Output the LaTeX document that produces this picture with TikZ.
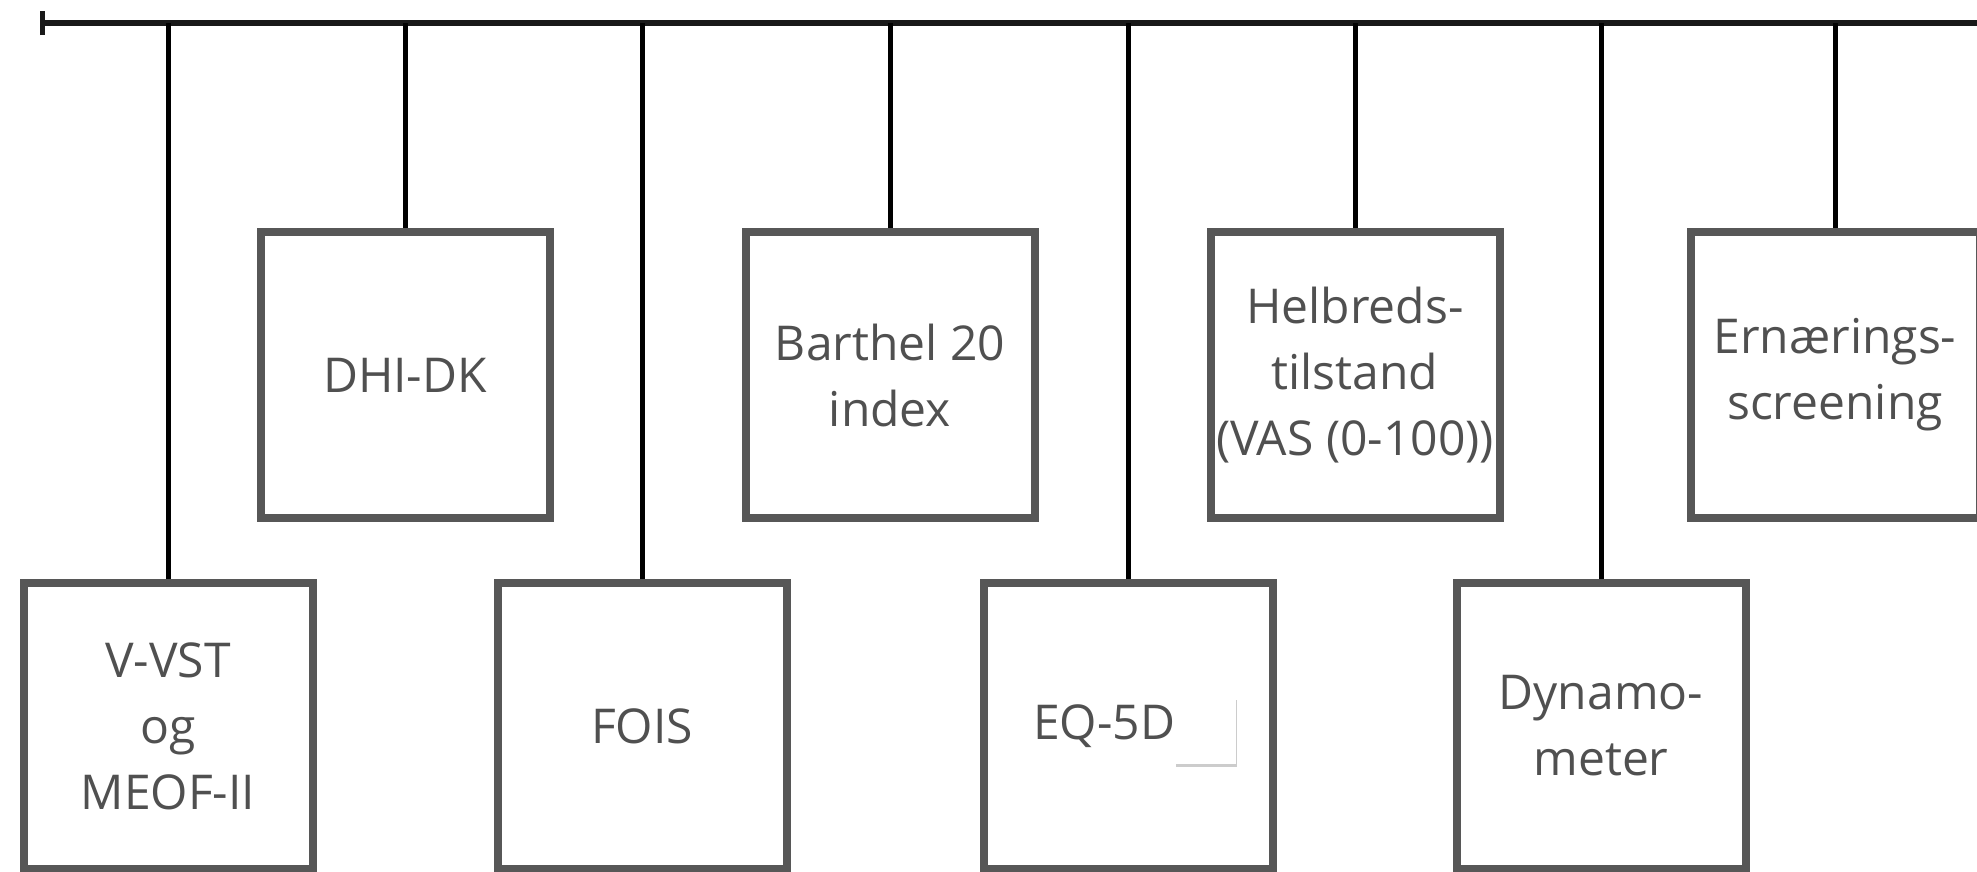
\documentclass[tikz,border=0pt]{standalone}
\usepackage{fontspec}
\setmainfont{Open Sans}
\usetikzlibrary{arrows.meta,shadows}
\definecolor{boxgray}{HTML}{575757}
\definecolor{textgray}{HTML}{505050}

\begin{document}
\begin{tikzpicture}[x=1pt, y=-1pt,
    testbox/.style={draw=boxgray, line width=8pt, rectangle, minimum width=289pt, minimum height=286pt, inner sep=0pt, align=center, font=\fontsize{48}{66}\selectfont, text=textgray},
    link/.style={line width=5pt, black}]
    \useasboundingbox (0,0) rectangle (1977,871);
    \clip (0,0) rectangle (1977,871);

    % Objects
    \node[testbox] (vvst) at (168,726) {V-VST\\og\\MEOF-II};
    \node[testbox] (dhi) at (405,375) {DHI-DK};
    \node[testbox] (fois) at (642,726) {FOIS};
    \node[testbox] (barthel) at (890,375) {Barthel 20\\index};
    \node[testbox] (eq5d) at (1128,726) {EQ-5D\hspace*{48pt}};
    \node[testbox] (helbred) at (1355,375) {Helbreds-\\tilstand\\(VAS (0-100))};
    \node[testbox] (dynamo) at (1601,726) {Dynamo-\\meter};
    \node[testbox] (ernaering) at (1835,375) {Ernærings-\\screening};

    % White patch after EQ-5D
    \node[fill=white, minimum width=61pt, minimum height=67pt, inner sep=0pt, drop shadow={opacity=0.4, shadow xshift=1pt, shadow yshift=-3pt}] (patch) at ([xshift=77pt, yshift=-4pt]eq5d.center) {};

    % Bus
    \coordinate (busleft) at (40,23);
    \coordinate (busright) at (1977,23);
    \draw[line width=5.5pt, black!90, {Bar[width=24pt, line width=4.5pt]}-] (busleft) -- (busright);

    % Links
    \foreach \b in {vvst,dhi,fois,barthel,eq5d,helbred,dynamo,ernaering}
        \draw[link] (\b.north) -- (\b.north |- busleft);
\end{tikzpicture}
\end{document}
